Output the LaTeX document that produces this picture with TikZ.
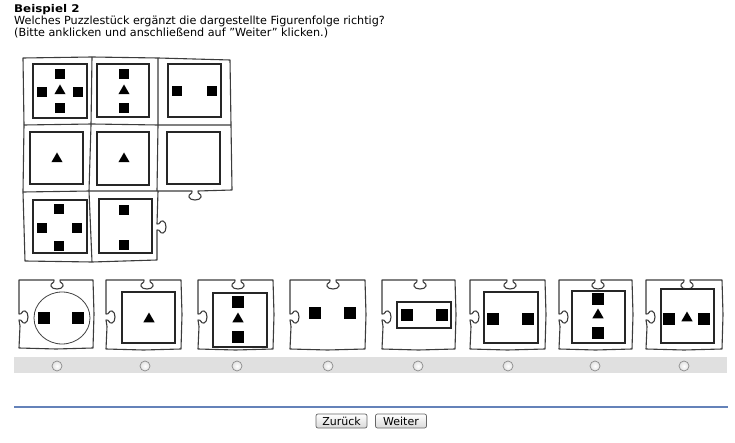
\documentclass[tikz,border=0pt]{standalone}
\usepackage{fontspec}
\setmainfont{DejaVu Sans}
\usetikzlibrary{shapes.geometric}
\definecolor{pzline}{RGB}{60,60,60}
\definecolor{barcol}{RGB}{224,224,224}
\definecolor{rulecol}{RGB}{100,130,185}
\newcommand\hknob[2]{-- ({#1-3},#2) .. controls ({#1-2},{#2+3}) and ({#1-7},{#2+3}) .. ({#1-6},{#2+6}) .. controls ({#1-5},{#2+10}) and ({#1+5},{#2+10}) .. ({#1+6},{#2+6}) .. controls ({#1+7},{#2+3}) and ({#1+2},{#2+3}) .. ({#1+3},#2)}
\newcommand\hknobrl[2]{-- ({#1+3},#2) .. controls ({#1+2},{#2+3}) and ({#1+7},{#2+3}) .. ({#1+6},{#2+6}) .. controls ({#1+5},{#2+10}) and ({#1-5},{#2+10}) .. ({#1-6},{#2+6}) .. controls ({#1-7},{#2+3}) and ({#1-2},{#2+3}) .. ({#1-3},#2)}
\newcommand\vknob[2]{-- (#1,{#2-3}) .. controls ({#1+3},{#2-2}) and ({#1+3},{#2-7}) .. ({#1+6},{#2-6}) .. controls ({#1+10},{#2-5}) and ({#1+10},{#2+5}) .. ({#1+6},{#2+6}) .. controls ({#1+3},{#2+7}) and ({#1+3},{#2+2}) .. (#1,{#2+3})}
% answer piece: x1, y1, x2, y2, notch cx
\newcommand\apiece[5]{\draw[pz] (#1,#2) \vknob{#1}{317} -- ({#1+1},{(#2+#4)/2+12}) -- (#1,#4) -- ({(#1+#3)/2},{#4+1}) -- (#3,#4) -- ({#3+1},{(#2+#4)/2}) -- (#3,#2) \hknobrl{#5}{#2} -- cycle;}
\begin{document}
\begin{tikzpicture}[x=1pt,y=-1pt,
  pz/.style={draw=pzline,line width=1.1pt,line join=round},
  frame/.style={draw=black!85,line width=1.3pt},
  sqr/.style={fill=black,minimum size=10pt,inner sep=0pt},
  bsqr/.style={fill=black,minimum size=11.5pt,inner sep=0pt},
  tri/.style={regular polygon,regular polygon sides=3,fill=black,minimum size=13pt,inner sep=0pt},
  txt/.style={anchor=base west,inner sep=0pt,font=\fontsize{11.2pt}{12pt}\selectfont},
  radio/.style={circle,draw=black!45,inner color=white,outer color=black!12,minimum size=10pt,inner sep=0pt,line width=0.7pt},
  btn/.style={draw=black!60,rounded corners=2pt,top color=white,bottom color=black!15,line width=0.7pt,minimum width=51pt,minimum height=14pt,inner sep=0pt,font=\fontsize{11pt}{12pt}\selectfont}
]
\useasboundingbox (0,0) rectangle (735,443);
\fill[white] (0,0) rectangle (735,443);
% texts
\node[txt,font=\fontsize{10.6pt}{12pt}\selectfont\bfseries] (t1) at (14,13) {\scalebox{1.12}[1]{Beispiel 2}};
\node[txt] (t2) at (14,25) {Welches Puzzlestück ergänzt die dargestellte Figurenfolge richtig?};
\node[txt] (t3) at (14,36.5) {(Bitte anklicken und anschließend auf "Weiter" klicken.)};
% main puzzle outline
\draw[pz] (23,58) -- (92,57) -- (158,58) -- (230,60) -- (231,125) -- (232,190) \hknobrl{195}{191} -- (158,191) \vknob{157}{227} -- (157,260) -- (92,262) -- (25,261) -- (23,192) -- (24,125) -- cycle;
\draw[pz] (24,125) -- (92,124) -- (158,125) -- (231,125);
\draw[pz] (23,192) -- (90,191) -- (158,191);
\draw[pz] (92,57) -- (91,125) -- (89,191) -- (92,262);
\draw[pz] (158,58) -- (158,125) -- (157,191);
% inner frames of grid
\draw[frame] (33,64) rectangle (87,118);
\draw[frame] (97,64) rectangle (149,117);
\draw[frame] (168,64) rectangle (221,117);
\draw[frame] (30,132) rectangle (83,184);
\draw[frame] (97,132) rectangle (149,185);
\draw[frame] (167,132) rectangle (220,184);
\draw[frame] (33,200) rectangle (87,253);
\draw[frame] (99,199) rectangle (152,253);
% grid shapes
\node[sqr] (a1) at (60,74) {};
\node[sqr] (a2) at (42,92) {};
\node[sqr] (a3) at (78,92) {};
\node[sqr] (a4) at (60,108) {};
\node[tri] (a5) at (60,91) {};
\node[sqr] (b1) at (124,74) {};
\node[sqr] (b2) at (124,108) {};
\node[tri] (b3) at (124,91) {};
\node[sqr] (c1) at (177,91) {};
\node[sqr] (c2) at (212,91) {};
\node[tri] (d1) at (57,159) {};
\node[tri] (e1) at (124,159) {};
\node[sqr] (g1) at (59,209) {};
\node[sqr] (g2) at (42,228) {};
\node[sqr] (g3) at (77,228) {};
\node[sqr] (g4) at (59,246) {};
\node[sqr] (h1) at (124,210) {};
\node[sqr] (h2) at (124,245) {};
% answer pieces
\apiece{19}{280}{93}{348}{57}
\apiece{106}{280}{181}{349}{147}
\apiece{198}{280}{273}{349}{238}
\apiece{290}{280}{365}{349}{333}
\apiece{382}{280}{455}{349}{420}
\apiece{470}{280}{545}{349}{510}
\apiece{559}{280}{632}{349}{598}
\apiece{646}{280}{722}{349}{687}
% piece 1
\draw[draw=black!75,line width=0.8pt] (62,318) ellipse [x radius=28,y radius=26];
\node[bsqr] (p1a) at (44,318) {};
\node[bsqr] (p1b) at (78,318) {};
% piece 2
\draw[frame] (122,292) rectangle (175,343);
\node[tri] (p2a) at (149,319) {};
% piece 3
\draw[frame] (213,293) rectangle (267,347);
\node[bsqr] (p3a) at (238,302) {};
\node[tri] (p3b) at (238,319) {};
\node[bsqr] (p3c) at (238,337) {};
% piece 4
\node[bsqr] (p4a) at (315,313) {};
\node[bsqr] (p4b) at (350,313) {};
% piece 5
\draw[frame] (397,302) rectangle (451,328);
\node[bsqr] (p5a) at (407,315) {};
\node[bsqr] (p5b) at (442,315) {};
% piece 6
\draw[frame] (484,292) rectangle (538,343);
\node[bsqr] (p6a) at (493,319) {};
\node[bsqr] (p6b) at (528,319) {};
% piece 7
\draw[frame] (572,291) rectangle (625,343);
\node[bsqr] (p7a) at (598,299) {};
\node[tri] (p7b) at (598,315) {};
\node[bsqr] (p7c) at (598,333) {};
% piece 8
\draw[frame] (661,289) rectangle (714,343);
\node[bsqr] (p8a) at (669,319) {};
\node[tri] (p8b) at (687,318) {};
\node[bsqr] (p8c) at (704,319) {};
% radio bar
\fill[barcol] (14,357) rectangle (727,373);
\foreach \x [count=\i] in {57,145,237,328,418,508,595,684}
  \node[radio] (r\i) at (\x,366) {};
% rule
\coordinate (ra) at (14,407);
\coordinate (rb) at (728,407);
\draw[rulecol,line width=1.2pt] (ra) -- (rb);
% buttons
\node[btn] (zur) at (341.5,421) {Zurück};
\node[btn] (wei) at (401,421) {Weiter};
\end{tikzpicture}
\end{document}
